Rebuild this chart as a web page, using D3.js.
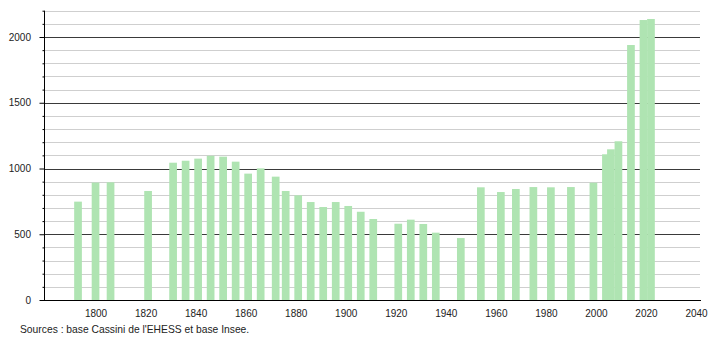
<!DOCTYPE html>
<html><head><meta charset="utf-8">
<script src="https://cdn.jsdelivr.net/npm/d3@7"></script>
<style>html,body{margin:0;padding:0;background:#fff;}svg{display:block;}</style>
</head><body>
<script>
const years = [1793,1800,1806,1821,1831,1836,1841,1846,1851,1856,1861,1866,1872,1876,1881,1886,1891,1896,1901,1906,1911,1921,1926,1931,1936,1946,1954,1962,1968,1975,1982,1990,1999,2004,2006,2009,2014,2019,2022];
const population = [748,893,895,829,1044,1059,1075,1097,1090,1052,961,1001,938,829,796,745,707,745,715,671,616,580,611,578,512,471,857,821,844,859,857,859,892,1108,1146,1207,1939,2129,2137];
const xTickLabels = [1800,1820,1840,1860,1880,1900,1920,1940,1960,1980,2000,2020,2040];
const yTickLabels = [0,500,1000,1500,2000];
const yMinor = d3.range(0, 2201, 100);
const sourceText = "Sources : base Cassini de l'EHESS et base Insee.";

const W = 710, H = 340;
const svg = d3.select("body").append("svg").attr("width", W).attr("height", H);
const x = d3.scaleLinear().domain([1780, 2040]).range([45.5, 696]);
const y = d3.scaleLinear().domain([0, 2200]).range([300, 10.7]);
const left = 44, right = 700;
const font = "Liberation Sans, Arial, sans-serif";

// grid
svg.append("g").selectAll("line").data(yMinor).join("line")
  .attr("x1", left).attr("x2", right)
  .attr("y1", d => Math.round(y(d)) + 0.5).attr("y2", d => Math.round(y(d)) + 0.5)
  .attr("stroke", d => d % 500 === 0 ? "#3a3a3a" : "#cfcfcf")
  .attr("stroke-width", 1);

// bars
const bw = 7.7;
svg.append("g").selectAll("rect").data(years).join("rect")
  .attr("x", (d) => x(d) - bw / 2)
  .attr("width", bw)
  .attr("y", (d, i) => y(population[i]))
  .attr("height", (d, i) => y(0) - y(population[i]))
  .attr("fill", "#afe4b2");

// y axis
const yAxis = d3.axisLeft(y).tickValues(yMinor).tickSize(2).tickFormat("");
const gy = svg.append("g").attr("transform", `translate(${left + 0.5},0)`).call(yAxis);
gy.select(".domain").attr("d", `M0,${y(2200)}V${y(0)}`).attr("stroke", "#000");
gy.selectAll(".tick line").attr("x2", d => d % 500 === 0 ? -5 : -2).attr("stroke", "#000");
svg.append("g").selectAll("text").data(yTickLabels).join("text")
  .attr("x", 31).attr("y", d => y(d) + 3.5)
  .attr("text-anchor", "end").attr("font-family", font).attr("font-size", 10)
  .attr("fill", "#222").text(d => d);

// x axis
svg.append("line").attr("x1", left).attr("x2", right + 1)
  .attr("y1", 300.5).attr("y2", 300.5).attr("stroke", "#000");
const xAxis = d3.axisBottom(x).tickValues(xTickLabels).tickSize(0).tickFormat(d3.format("d"));
const gx = svg.append("g").attr("transform", "translate(0,300)").call(xAxis);
gx.select(".domain").remove();
gx.selectAll("text").attr("font-family", font).attr("font-size", 10).attr("fill", "#222").attr("dy", "1.35em");

// source
svg.append("text").attr("x", 20).attr("y", 333)
  .attr("font-family", font).attr("font-size", 10.3).attr("fill", "#222").text(sourceText);
</script>
</body></html>
